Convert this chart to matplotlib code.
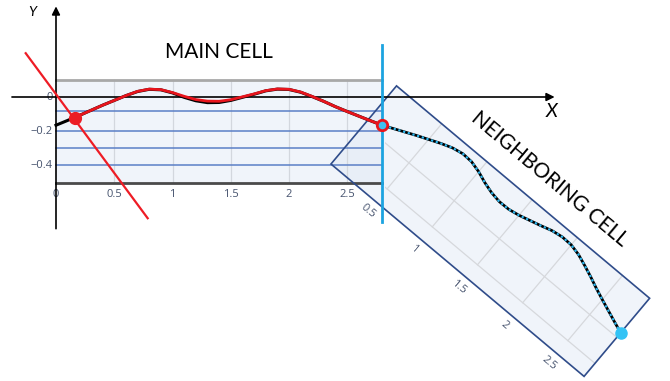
import matplotlib.pyplot as plt
from matplotlib.patches import Rectangle
from matplotlib.transforms import Affine2D

# profile of the cell boundary (cell units)
cell_x = [0.0, 0.1, 0.2, 0.3, 0.4, 0.5, 0.6, 0.7, 0.8, 0.9, 1.0, 1.1, 1.2, 1.3, 1.4,
          1.5, 1.6, 1.7, 1.8, 1.9, 2.0, 2.1, 2.2, 2.3, 2.4, 2.5, 2.6, 2.7, 2.8]
cell_y = [-0.165, -0.137, -0.108, -0.078, -0.048, -0.020, 0.008, 0.032, 0.045, 0.042,
          0.024, -0.002, -0.022, -0.033, -0.032, -0.020, -0.002, 0.016, 0.036, 0.046,
          0.044, 0.028, 0.002, -0.026, -0.057, -0.085, -0.112, -0.139, -0.165]

# fitted profile (red), starts at the contact point
fit_x = [0.16, 0.2, 0.3, 0.4, 0.5, 0.6, 0.7, 0.8, 0.9, 1.0, 1.1, 1.2, 1.3, 1.4,
         1.5, 1.6, 1.7, 1.8, 1.9, 2.0, 2.1, 2.2, 2.3, 2.4, 2.5, 2.6, 2.7, 2.8]
fit_y = [-0.122, -0.108, -0.078, -0.048, -0.020, 0.008, 0.033, 0.046, 0.043, 0.026,
         0.004, -0.015, -0.024, -0.025, -0.016, 0.001, 0.018, 0.037, 0.047, 0.045,
         0.029, 0.003, -0.026, -0.057, -0.085, -0.112, -0.139, -0.165]

# straight line through the origin and the contact point
line_x = [-0.26, 0.787]
line_y = [0.256, -0.709]

x_ticks = [0, 0.5, 1, 1.5, 2, 2.5]
x_ticklabels = ['0', '0.5', '1', '1.5', '2', '2.5']
y_ticks = [0, -0.2, -0.4]
y_ticklabels = ['0', '\u22120.2', '\u22120.4']
h_lines = [-0.08, -0.2, -0.3, -0.4]
nb_ticks = [0.5, 1, 1.5, 2, 2.5]
nb_ticklabels = ['0.5', '1', '1.5', '2', '2.5']
nb_hgrid = [-0.2, -0.4]

cell_w, y_lo, y_hi = 2.8, -0.5, 0.1

fig = plt.figure(figsize=(6.7, 3.81), dpi=100)
ax = fig.add_axes([0, 0, 1, 1])
ax.set_xlim(0, 670)
ax.set_ylim(381, 0)
ax.axis('off')

main_tr = Affine2D().scale(116.5, -171).translate(56, 97) + ax.transData
nb_tr = Affine2D().scale(118, -170).rotate_deg(40).translate(385.6, 98.9) + ax.transData

tick_font = dict(family='Open Sans', fontsize=8, color='#46536e')

# ---- neighboring cell (rotated copy) ----
ax.add_patch(Rectangle((0, y_lo), cell_w, y_hi - y_lo, transform=nb_tr,
                       facecolor='#dfe7f5', alpha=0.45, edgecolor='none', zorder=1))
clip = Rectangle((385, 0), 300, 381, transform=ax.transData)
for yy in nb_hgrid:
    ln, = ax.plot([0, cell_w], [yy, yy], color='#d6d8dc', lw=0.9, transform=nb_tr, zorder=1.5)
    ln.set_clip_path(clip)
for t in nb_ticks:
    ln, = ax.plot([t, t], [-0.4, y_hi], color='#d6d8dc', lw=0.9, transform=nb_tr, zorder=1.5)
    ln.set_clip_path(clip)
for t, lab in zip(nb_ticks, nb_ticklabels):
    ax.text(t, -0.57, lab, transform=nb_tr, rotation=-40, rotation_mode='anchor',
            ha='center', va='center', **tick_font)

# ---- main cell ----
ax.add_patch(Rectangle((0, y_lo), cell_w, y_hi - y_lo, transform=main_tr,
                       facecolor='#dfe7f5', alpha=0.45, edgecolor='none', zorder=2))
for t in x_ticks[1:]:
    ax.plot([t, t], [y_lo, y_hi], color='#d3d7de', lw=0.9, transform=main_tr, zorder=2.5)
for yy in h_lines:
    ax.plot([0, cell_w], [yy, yy], color='#5b7fc6', lw=1.1, transform=main_tr, zorder=3)
ax.plot([0, cell_w], [y_hi, y_hi], color='#a8a8a8', lw=2, transform=main_tr, zorder=3)
ax.plot([0, cell_w], [y_lo, y_lo], color='#4a4a4a', lw=2, transform=main_tr, zorder=3)

for t, lab in zip(x_ticks, x_ticklabels):
    ax.text(t, -0.57, lab, transform=main_tr, ha='center', va='center', **tick_font)
for t, lab in zip(y_ticks, y_ticklabels):
    ax.text(-0.03, t, lab, transform=main_tr, ha='right', va='center', **tick_font)

# neighbor cell outline on top of the main cell fill
ax.add_patch(Rectangle((0, y_lo), cell_w, y_hi - y_lo, transform=nb_tr,
                       facecolor='none', edgecolor='#2f4c8a', lw=1.2, zorder=4))

# coordinate axes
arrow = dict(arrowstyle='-|>', color='black', lw=1.2, mutation_scale=12, shrinkA=0, shrinkB=0)
ax.annotate('', xy=(0, 0.53), xytext=(0, -0.77), xycoords=main_tr, textcoords=main_tr,
            arrowprops=arrow, zorder=5)
ax.annotate('', xy=(4.28, 0.0), xytext=(-0.378, 0.0), xycoords=main_tr, textcoords=main_tr,
            arrowprops=arrow, zorder=5)
ax.text(-0.206, 0.497, 'Y', transform=main_tr, fontsize=10, style='italic',
        family='Lato', ha='center', va='center')
ax.text(4.25, -0.085, 'X', transform=main_tr, fontsize=14, style='italic',
        family='Lato', ha='center', va='center')

# cell boundary
ax.plot([cell_w, cell_w], [-0.731, 0.304], color='#1ca3e0', lw=2, transform=main_tr, zorder=6)

ax.text(1.4, 0.265, 'MAIN CELL', transform=main_tr, fontsize=15, family='Lato',
        ha='center', va='center')
ax.text(1.5, 0.256, 'NEIGHBORING CELL', transform=nb_tr, fontsize=15, family='Lato',
        rotation=-40, rotation_mode='anchor', ha='center', va='center')

# curves
ax.plot(line_x, line_y, color='#ee1c25', lw=1.6, transform=main_tr, zorder=7)
ax.plot(cell_x, cell_y, color='black', lw=2.2, transform=main_tr, zorder=7)
ax.plot(fit_x, fit_y, color='#e8141c', lw=2, transform=main_tr, zorder=7.5)
ax.plot(cell_x[1:], cell_y[1:], color='black', lw=2, transform=nb_tr, zorder=7)
ax.plot(cell_x[1:], cell_y[1:], color='#2cb8f0', lw=1.6, ls=(0, (1, 1.2)),
        transform=nb_tr, zorder=7.5)

# markers
ax.plot(fit_x[0], fit_y[0], 'o', ms=8.5, color='#ec1c24', transform=main_tr, zorder=8)
ax.plot(fit_x[-1], fit_y[-1], 'o', ms=7.5, mfc='#3fc1f0', mec='#e8141c', mew=2,
        transform=main_tr, zorder=8)
ax.plot(cell_x[-1], cell_y[-1], 'o', ms=8, color='#33c3f5', transform=nb_tr, zorder=8)

fig.savefig('out.png', dpi=100)
